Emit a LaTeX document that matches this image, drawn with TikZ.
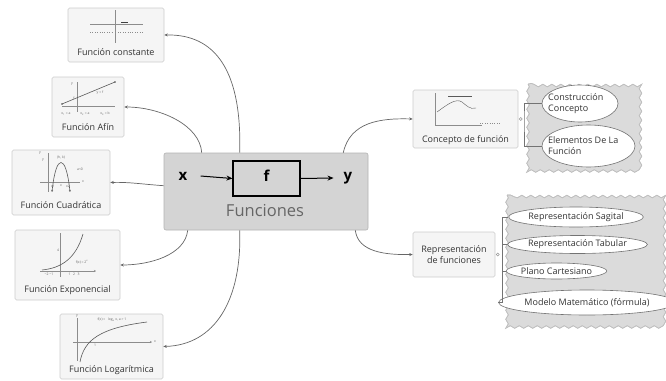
\documentclass[tikz,border=0pt]{standalone}
\usepackage{fontspec}
\setmainfont{Open Sans}
\usetikzlibrary{shapes.geometric,decorations.pathmorphing,arrows.meta,calc}

\begin{document}
\begin{tikzpicture}[x=1pt,y=-1pt,
  card/.style={draw=black!20, fill=black!4, rounded corners=1.5pt, line width=0.6pt, inner sep=0pt},
  lbl/.style={font=\fontsize{9}{11}\selectfont, text=black!80, inner sep=0pt},
  link/.style={draw=black!60, line width=0.7pt, -{Stealth[length=3.5pt,width=3pt]}},
  oval/.style={ellipse, draw=black!55, fill=white, line width=0.6pt, inner sep=0pt,
    font=\fontsize{9}{11}\selectfont, text=black!80},
  cloudbg/.style={fill=black!14, draw=black!25, line width=0.6pt, decorate,
    decoration={snake, amplitude=1.3pt, segment length=9pt}},
  brace/.style={draw=black!55, line width=0.7pt},
  axis/.style={draw=black!45, line width=0.4pt},
  curve/.style={draw=black!65, line width=0.6pt},
  tiny/.style={font=\fontsize{3.4}{4}\selectfont, text=black!60, inner sep=0pt},
  io/.style={font=\fontsize{15}{17}\selectfont\bfseries, inner sep=0pt}
]
\useasboundingbox (0,0) rectangle (666,380);

% ---------- central node ----------
\node[draw=black!30, fill=black!17, rounded corners=2pt, line width=0.6pt,
      minimum width=204pt, minimum height=77pt, inner sep=0pt] (fun) at (266,191.5) {};
\node[draw=black, line width=1.1pt, minimum width=67pt, minimum height=35pt,
      inner sep=0pt, fill=black!17] (fbox) at (266.5,178.5) {};
\node[io] (ftxt) at (266.5,176) {f};
\node[io] (xin) at (183,176) {x};
\node[io] (yout) at (348,178) {y};
\draw[line width=1pt, -{Stealth[length=6pt,width=5pt]}] ([xshift=13pt]xin.east) -- (fbox.west);
\draw[line width=1pt, -{Stealth[length=6pt,width=5pt]}] (fbox.east) -- ([xshift=-10pt]yout.west);
\node[font=\fontsize{16.5}{19}\selectfont, text=black!60, inner sep=0pt] (title) at (265,211) {Funciones};

% ---------- left cards ----------
\node[card, minimum width=96pt, minimum height=54pt] (cst) at (116,35) {};
\node[lbl] (cstl) at (116,52) {Función constante};
\draw[axis] (115,10) -- (115,43);
\draw[axis] (90,24) -- (143,24);
\draw[curve, black!75] (121,22) -- (128,22);
\draw[axis, dotted] (90,32) -- (112,32);
\draw[axis, dotted] (118,32) -- (143,32);

\node[card, minimum width=72pt, minimum height=60pt] (afin) at (88,107) {};
\node[lbl] (afinl) at (88,127) {Función Afín};
\draw[axis] (77,82) -- (77,112);
\draw[axis] (62,106) -- (115,106);
\draw[curve] (62,104) -- (115,82);
\fill[black!70] (62,104) circle (0.9pt) (115,82) circle (0.9pt);
\node[tiny] at (100,93) {y = f};
\node[tiny] at (66,114) {x\textsubscript{1} = a};
\node[tiny] at (85,114) {x\textsubscript{2} = a};
\node[tiny] at (105,114) {x\textsubscript{3} = b};
\node[tiny] at (72,84) {y};
\node[tiny] at (74,98) {f};

\node[card, minimum width=98pt, minimum height=65pt] (cuad) at (61,182.5) {};
\node[lbl] (cuadl) at (61,205) {Función Cuadrática};
\draw[axis] (48,153) -- (48,192);
\draw[axis] (40,182) -- (80,182);
\draw[curve, {Stealth[length=2pt,width=2pt]}-{Stealth[length=2pt,width=2pt]}]
  (52,192) .. controls (56,153) and (66,153) .. (70,192);
\node[tiny] at (40,153) {y};
\node[tiny] at (43,160) {y};
\node[tiny] at (61,157) {(h, k)};
\node[tiny] at (80,169) {a<0};
\node[tiny] at (83,182) {x};
\node[tiny] at (53,186) {x1};
\node[tiny] at (61,186) {x};
\node[tiny] at (68,186) {x2};

\node[card, minimum width=105pt, minimum height=70pt] (expo) at (67.5,265) {};
\node[lbl] (expol) at (67.5,290) {Función Exponencial};
\draw[axis] (60,233) -- (60,277);
\draw[axis, -{Stealth[length=2pt,width=2pt]}] (40,271) -- (96,271);
\draw[curve] (42,270) .. controls (62,268) and (76,258) .. (83,234);
\node[tiny] at (82,262) {f(x) = 2\textsuperscript{x}};
\node[tiny] at (49,274) {−2 −1};
\node[tiny] at (74,274) {1 \enspace 2 \enspace 3};
\node[tiny] at (58,250) {4};

\node[card, minimum width=103pt, minimum height=65pt] (loga) at (111.5,346.5) {};
\node[lbl] (logal) at (111.5,370) {Función Logarítmica};
\draw[axis] (77,318) -- (77,361);
\draw[axis, -{Stealth[length=2pt,width=2pt]}] (73,342) -- (152,342);
\draw[curve] (80,362) .. controls (84,340) and (100,328) .. (147,322);
\node[tiny] at (112,320) {f(x) = \enspace log\textsubscript{a} x, a > 1};
\node[tiny] at (95,345) {1};
\node[tiny] at (155,342) {x};
\node[tiny] at (77,316) {y};

% ---------- right cards ----------
\node[card, minimum width=105pt, minimum height=58pt] (conc) at (465.5,119) {};
\node[lbl] (concl) at (465.5,140) {Concepto de función};
\draw[axis] (435,93) -- (435,125);
\draw[axis] (435,125) -- (482,125);
\draw[curve, line width=0.4pt] (437,112) .. controls (448,104) and (456,98) .. (462,102)
  .. controls (466,105) and (470,110) .. (476,108);
\draw[curve, line width=0.8pt] (448,96) -- (472,96);
\draw[axis, dotted] (480,123) -- (500,123);

\node[card, minimum width=82pt, minimum height=45pt] (repr) at (454,254.5) {};
\node[lbl, align=center] (reprl) at (454,254.5) {Representación\\de funciones};

% ---------- connectors from the central node ----------
\draw[link] ([xshift=76pt]fun.north west) .. controls (242,70) and (215,34) .. (cst.east);
\draw[link] ([xshift=38pt]fun.north west) .. controls (200,125) and (160,107) .. (afin.east);
\draw[link] ([yshift=-33pt]fun.north west) .. controls (140,184) and (130,182) .. (cuad.east);
\draw[link] ([xshift=24pt]fun.south west) .. controls (185,255) and (150,265) .. (expo.east);
\draw[link] ([xshift=76pt]fun.south west) .. controls (242,300) and (215,345) .. (loga.east);
\draw[link] ([xshift=-25pt]fun.north east) .. controls (350,122) and (380,118) .. (conc.west);
\draw[link] ([xshift=-13pt]fun.south east) .. controls (358,252) and (385,255) .. (repr.west);

% ---------- grouped subtopics ----------
\fill[cloudbg] (528,84) rectangle (643,168);
\draw[cloudbg, fill=none] (528,84) rectangle (643,168);
\node[oval, minimum width=76pt, minimum height=37pt] (cc) at (580,103.5) {};
\node[lbl, align=left, anchor=west] (cct) at (548,103.5) {Construcción\\Concepto};
\node[oval, minimum width=93pt, minimum height=42pt] (el) at (588.5,146) {};
\node[lbl, align=left, anchor=west] (elt) at (548,146) {Elementos De La\\Función};
\coordinate (cb) at (524,118);
\draw[brace] (cc.west) -| (cb) |- (el.west);
\draw[black!40, line width=0.5pt] (conc.east) ++(2.5pt,0) circle (1.5pt);

\fill[cloudbg] (507,195) rectangle (662,328);
\draw[cloudbg, fill=none] (507,195) rectangle (662,328);
\node[oval, minimum width=122pt, minimum height=20pt] (rs) at (576,217) {Representación Sagital};
\node[oval, minimum width=125pt, minimum height=18pt] (rt) at (577.5,244.5) {Representación Tabular};
\node[oval, minimum width=83pt, minimum height=16pt] (pc) at (556.5,271) {Plano Cartesiano};
\node[oval, minimum width=148pt, minimum height=25pt] (mm) at (587,302.5) {Modelo Matemático (fórmula)};
\coordinate (rb1) at (502,217);
\coordinate (rb2) at (502,244.5);
\coordinate (rb3) at (502,271);
\coordinate (rb4) at (502,302.5);
\draw[brace] (rs.west) -- (rb1) -- (rb4) -- (mm.west);
\draw[brace] (rb2) -- (rt.west);
\draw[brace] (rb3) -- (pc.west);
\draw[black!40, line width=0.5pt] (repr.east) ++(2.5pt,0) circle (1.5pt);
\end{tikzpicture}
\end{document}
